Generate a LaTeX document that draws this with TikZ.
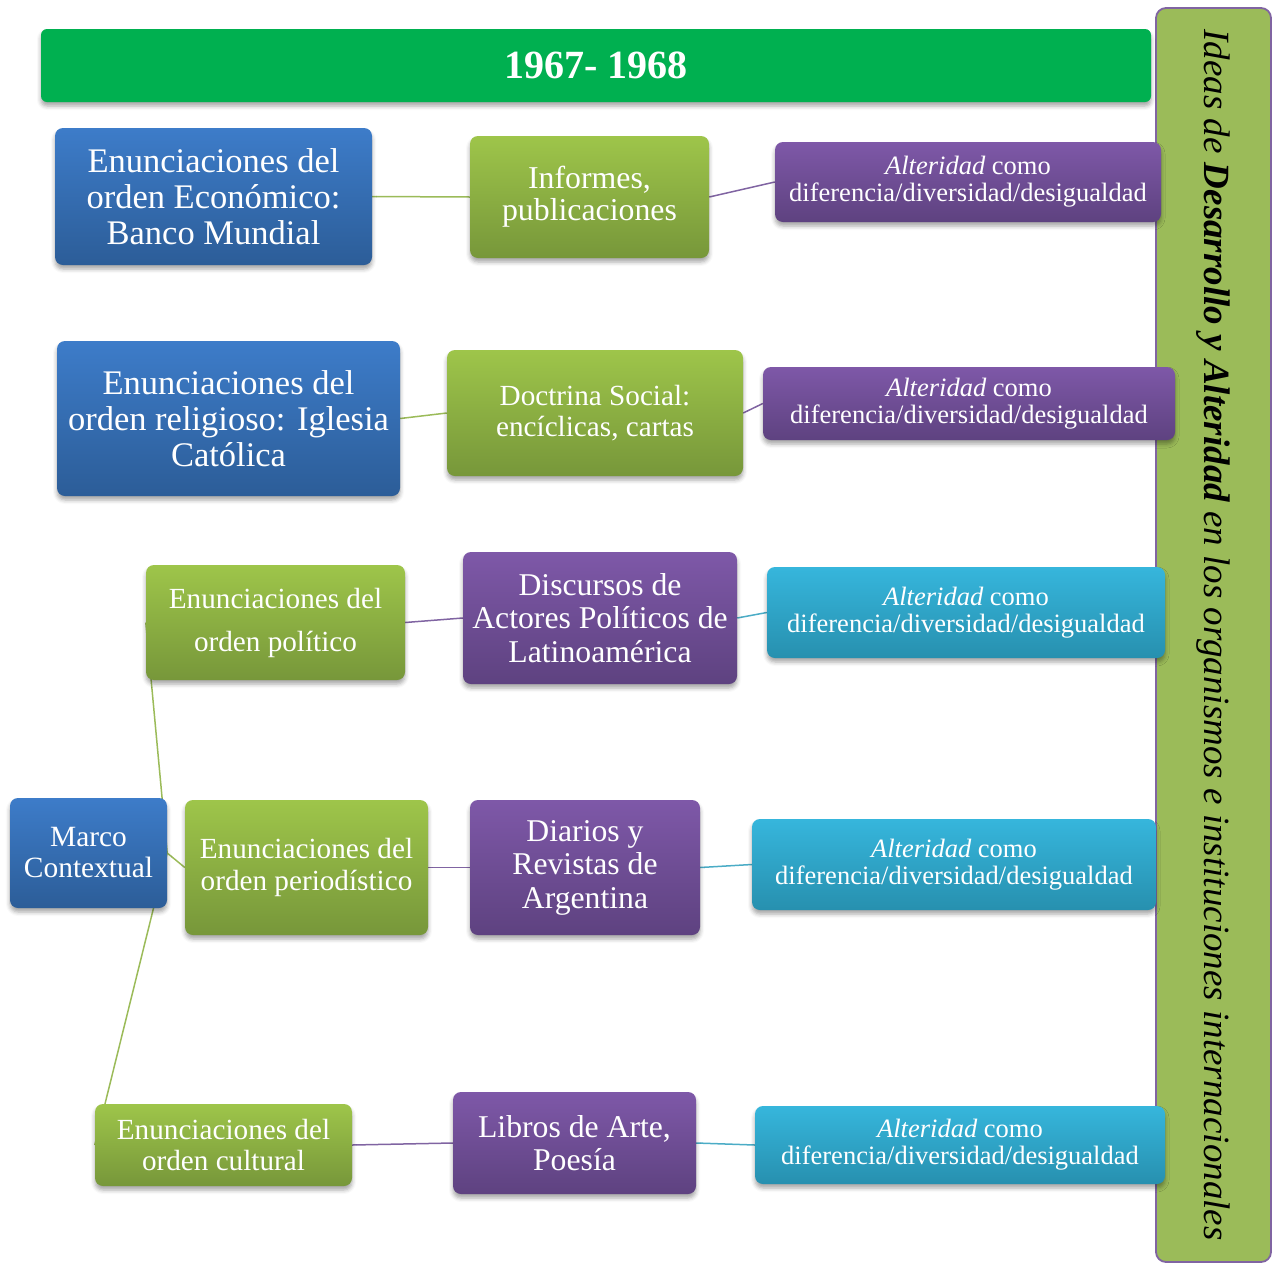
\documentclass[tikz,border=0pt]{standalone}
\usepackage{fontspec}
\setmainfont{Liberation Serif}
\usetikzlibrary{shadows.blur,backgrounds}
\definecolor{blueT}{HTML}{3D7CC9}
\definecolor{blueB}{HTML}{2C5D98}
\definecolor{greenT}{HTML}{9EC54A}
\definecolor{greenB}{HTML}{77973A}
\definecolor{purpT}{HTML}{7E58A8}
\definecolor{purpB}{HTML}{5E4280}
\definecolor{cyanT}{HTML}{36B6DC}
\definecolor{cyanB}{HTML}{2790AF}
\definecolor{titleG}{HTML}{00B050}
\definecolor{sideG}{HTML}{9BBB59}
\definecolor{lnG}{HTML}{9BBB59}
\definecolor{lnP}{HTML}{8064A2}
\definecolor{lnC}{HTML}{4BACC6}
\tikzset{
  box/.style={rounded corners=8pt, inner sep=0pt, align=center, text=white,
    blur shadow={shadow xshift=0pt, shadow yshift=-4pt, shadow blur radius=4pt, shadow opacity=35}},
  bluebox/.style={box, top color=blueT, bottom color=blueB},
  greenbox/.style={box, top color=greenT, bottom color=greenB},
  purpbox/.style={box, top color=purpT, bottom color=purpB},
  cyanbox/.style={box, top color=cyanT, bottom color=cyanB},
  gl/.style={draw=lnG, line width=1.5pt},
  pl/.style={draw=lnP, line width=1.5pt},
  cl/.style={draw=lnC, line width=1.5pt},
  fA/.style={font=\fontsize{34.5}{36}\selectfont},
  fB/.style={font=\fontsize{29.5}{32}\selectfont},
  fP/.style={font=\fontsize{31.7}{33.5}\selectfont},
  fC/.style={font=\fontsize{26.5}{27}\selectfont},
}
\begin{document}
\begin{tikzpicture}[x=1pt,y=-1pt]
\useasboundingbox (0,0) rectangle (1274,1264);
% side box
\node[draw=lnP, line width=1.8pt, fill=sideG, rounded corners=10pt, minimum width=115pt, minimum height=1254pt, inner sep=0pt] (side) at (1213.5,635) {};
\node[rotate=-90, font=\fontsize{37}{40}\selectfont\itshape, text=black] (sidetxt) at (side.center) {Ideas de \textbf{Desarrollo y Alteridad} en los organismos e instituciones internacionales};
% title
\node[box, fill=titleG, minimum width=1110pt, minimum height=73pt, rounded corners=6pt, font=\fontsize{40}{44}\selectfont\bfseries] (title) at (596,65.5) {1967- 1968};
% row 1
\node[bluebox, fA, minimum width=317pt, minimum height=137pt] (A1) at (213.5,196.5) {Enunciaciones del\\orden Económico:\\Banco Mundial};
\node[greenbox, font=\fontsize{31.8}{32}\selectfont, minimum width=239pt, minimum height=122pt] (B1) at (589.5,197) {Informes,\\publicaciones};
\node[purpbox, fC, minimum width=386pt, minimum height=80pt] (C1) at (968,182) {\textit{Alteridad} como\\diferencia/diversidad/desigualdad};
% row 2
\node[bluebox, fA, minimum width=343pt, minimum height=155pt] (A2) at (228.5,418.5) {Enunciaciones del\\orden religioso: Iglesia\\Católica};
\node[greenbox, font=\fontsize{29.2}{31}\selectfont, minimum width=296pt, minimum height=126pt] (B2) at (595,413) {Doctrina Social:\\encíclicas, cartas};
\node[purpbox, fC, minimum width=412pt, minimum height=73pt] (C2) at (969,403.5) {\textit{Alteridad} como\\diferencia/diversidad/desigualdad};
% row 3
\node[greenbox, font=\fontsize{29.2}{43}\selectfont, minimum width=259pt, minimum height=115pt] (G3) at (275.5,622.5) {Enunciaciones del\\orden político};
\node[purpbox, fP, minimum width=274pt, minimum height=132pt] (P3) at (600,618) {Discursos de\\Actores Políticos de\\Latinoamérica};
\node[cyanbox, fC, minimum width=398pt, minimum height=91pt] (C3) at (966,612.5) {\textit{Alteridad} como\\diferencia/diversidad/desigualdad};
% row 4
\node[bluebox, font=\fontsize{29.4}{31}\selectfont, minimum width=157pt, minimum height=110pt] (M) at (88.5,853) {Marco\\Contextual};
\node[greenbox, font=\fontsize{29.2}{32}\selectfont, minimum width=243pt, minimum height=135pt] (G4) at (306.5,867.5) {Enunciaciones del\\orden periodístico};
\node[purpbox, fP, minimum width=230pt, minimum height=135pt] (P4) at (585,867.5) {Diarios y\\Revistas de\\Argentina};
\node[cyanbox, fC, minimum width=404pt, minimum height=91pt] (C4) at (954,864.5) {\textit{Alteridad} como\\diferencia/diversidad/desigualdad};
% row 5
\node[greenbox, font=\fontsize{29.2}{31}\selectfont, minimum width=257pt, minimum height=82pt] (G5) at (223.5,1145) {Enunciaciones del\\orden cultural};
\node[purpbox, fP, minimum width=243pt, minimum height=102pt] (P5) at (574.5,1143) {Libros de Arte,\\Poesía};
\node[cyanbox, fC, minimum width=410pt, minimum height=78pt] (C5) at (960,1145) {\textit{Alteridad} como\\diferencia/diversidad/desigualdad};
% connectors
\begin{scope}[on background layer]
\draw[gl] (A1.east) -- (B1.west);
\draw[pl] (B1.east) -- (C1.west);
\draw[gl] (A2.east) -- (B2.west);
\draw[pl] (B2.east) -- (C2.west);
\draw[pl] (G3.east) -- (P3.west);
\draw[cl] (P3.east) -- (C3.west);
\draw[pl] (G4.east) -- (P4.west);
\draw[cl] (P4.east) -- (C4.west);
\draw[pl] (G5.east) -- (P5.west);
\draw[cl] (P5.east) -- (C5.west);
\draw[gl] (M.east) -- (G3.west);
\draw[gl] (M.east) -- (G4.west);
\draw[gl] (M.east) -- (G5.west);
\end{scope}
\end{tikzpicture}
\end{document}
